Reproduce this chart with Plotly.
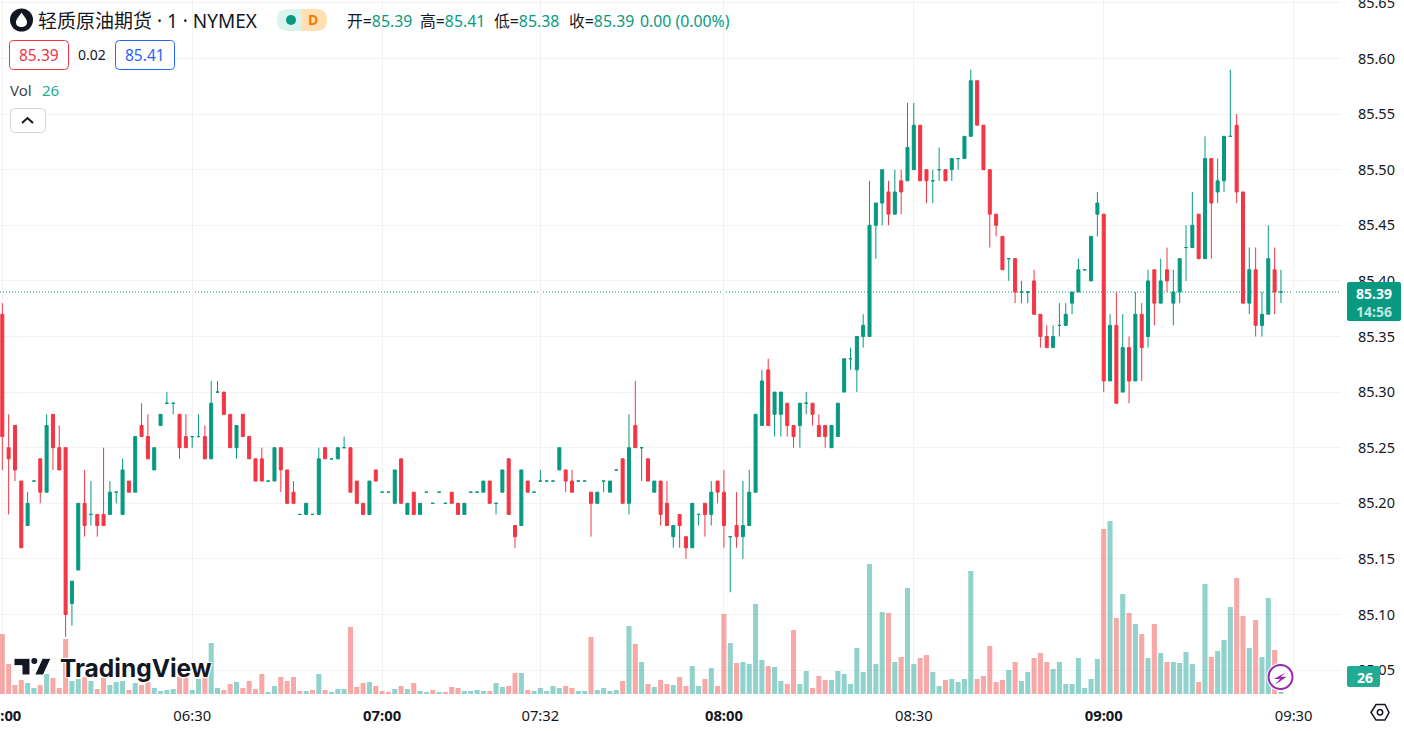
import plotly.graph_objects as go

# Prices are stored as hundredths above 85.00, bar by bar (1-minute bars)
opens_c = [37,25,27,22,18,22,24,21,28,25, 25,11,14,20,19,19,19,19,21,19, 22,21,27,26,23,27,29,29,28,26,
 26,26,26,24,30,30,28,25,28,26, 24,24,22,22,25,23,21,19,19,19, 19,25,24,24,25,25,22,20,19,23,
 21,21,20,24,19,21,19,21,20,21, 20,21,20,19,21,21,21,22,20,21, 24,18,18,22,21,22,22,22,23,23,
 22,22,22,21,20,22,21,23,24,20, 27,25,24,21,22,20,17,19,17,16, 19,20,19,22,21,17,18,17,18,21,
 27,32,28,28,29,27,27,29,29,27, 27,25,26,30,33,32,35,35,45,47, 48,46,49,49,50,54,50,49,50,50,
 50,51,51,53,58,54,50,46,44,42, 42,39,39,40,37,35,34,36,36,38, 39,41,40,46,46,31,36,30,34,31,
 37,35,41,38,41,38,39,43,43,46, 42,51,48,49,53,54,48,38,41,36, 37,41,39]
highs_c = [38,28,27,22,21,22,24,28,28,27, 25,13,20,23,22,19,25,22,21,24, 22,26,29,28,25,28,30,29,28,28,
 26,28,27,31,31,30,28,27,28,26, 24,25,22,25,25,23,22,19,20,19, 25,25,24,25,26,25,22,20,22,23,
 21,21,23,24,20,21,20,21,20,21, 20,21,20,20,21,21,22,22,20,23, 24,18,23,22,21,23,22,22,25,23,
 23,22,22,21,21,22,22,23,24,28, 31,25,24,22,22,22,18,19,17,20, 19,20,22,22,23,17,21,22,23,28,
 32,33,30,30,29,27,29,30,29,28, 27,27,29,33,34,35,37,49,47,50, 49,50,50,56,56,54,50,50,52,50,
 51,51,53,59,58,54,50,46,44,42, 42,40,39,41,37,36,36,38,38,39, 42,41,44,48,46,37,39,37,35,39,
 38,41,41,42,43,41,42,45,48,46, 53,51,51,53,59,55,48,43,43,39, 45,43,41]
lows_c = [23,19,22,16,18,22,20,21,23,23, 8,9,14,17,18,17,18,19,20,19, 21,21,26,24,23,27,29,28,24,25,
 25,26,24,24,30,28,25,24,26,24, 22,22,22,22,21,20,20,19,19,19, 19,24,24,24,25,21,20,19,19,22,
 21,21,20,20,19,19,19,21,20,21, 20,20,19,19,21,21,21,20,19,21, 19,16,18,21,21,22,22,22,23,21,
 21,22,22,17,20,21,21,23,20,19, 25,22,22,21,18,18,16,16,15,16, 18,17,18,20,16,12,16,15,18,21,
 27,27,26,26,26,25,25,28,27,26, 25,25,26,30,32,30,34,35,42,45, 45,46,46,49,50,49,47,47,49,49,
 49,50,51,53,54,50,43,44,41,40, 38,38,38,37,34,34,34,35,36,37, 39,41,40,44,30,31,29,30,29,31,
 31,34,36,38,39,36,38,40,43,42, 42,42,47,48,53,47,38,37,35,35, 37,37,38]
closes_c = [26,24,23,16,20,22,21,27,25,23, 10,13,20,18,19,18,18,21,21,23, 21,26,26,24,25,28,29,29,25,25,
 26,26,24,29,30,28,25,27,26,24, 22,22,22,25,23,20,20,19,20,19, 24,24,24,25,25,21,20,19,22,22,
 21,21,23,20,20,19,20,21,20,21, 20,20,19,20,21,21,22,20,20,23, 19,17,23,21,21,22,22,22,25,22,
 21,22,22,20,21,22,22,23,20,25, 25,25,22,22,19,18,18,18,16,20, 19,19,21,21,18,17,17,18,21,28,
 31,27,30,30,27,26,29,29,28,26, 26,27,29,33,33,35,36,45,47,50, 46,48,48,52,54,49,49,49,50,49,
 51,51,53,58,54,50,46,45,41,42, 39,39,39,37,35,34,35,36,37,39, 41,41,44,47,31,36,29,34,31,37,
 34,40,38,40,40,39,42,43,45,42, 51,47,49,53,53,48,38,41,36,37, 42,39,39]
volumes = [180,90,27,42,33,18,27,60,48,18, 165,39,45,51,39,15,48,27,36,39, 12,33,27,36,18,9,12,15,51,51,
 12,45,48,153,18,12,30,36,18,39, 15,60,6,24,51,39,51,9,9,12, 60,12,6,15,15,201,21,33,36,24,
 9,6,15,24,15,33,9,6,12,6, 6,21,18,9,9,12,9,9,33,21, 24,63,63,12,9,18,9,24,18,24,
 18,9,9,171,12,18,9,12,39,204, 150,96,30,21,42,30,27,51,24,84, 24,45,78,24,240,153,93,96,90,270,
 102,84,81,39,30,192,30,69,18,54, 42,42,69,60,30,138,66,390,90,246, 243,96,111,318,90,108,117,66,24,42,
 45,36,45,369,45,54,144,36,42,72, 96,39,66,108,123,96,75,96,30,30, 108,18,45,105,495,519,228,300,243,210,
 180,108,210,123,96,96,93,126,90,36, 330,111,129,162,261,348,234,138,222,111, 288,132,6]
volume_side = ("rrrrggrgrr" "rggrgrrggg" "rgrrggggrr" "ggrggrrgrr" "rrggrrrrgr" "grgggrrrgr"
               "rrgrgrggrg" "rrrggggrgg" "rrgrgggggr" "rggrggggrg" "rgrgrrgrrg" "grgrrgrggg"
               "grggrrggrr" "rggggggggg" "rgrggrrggr" "ggggrrrrrg" "rggrrrgggg" "ggggrgrgrg"
               "rgrgrggggr" "grgggrrgrg" "grg")
tick_bars = [0, 30, 60, 85, 114, 144, 174, 204]
tick_labels = ["<b>06:00</b>", "06:30", "<b>07:00</b>", "07:32", "<b>08:00</b>", "08:30", "<b>09:00</b>", "09:30"]
price_ticks = [85.05,85.10,85.15,85.20,85.25,85.30,85.35,85.40,85.45,85.50,85.55,85.60,85.65]
bid, spread, ask = "85.39", "0.02", "85.41"
last_volume_label = "26"
countdown = "14:56"

GREEN = "#089981"; RED = "#f23645"; VOLG = "rgba(38,166,154,0.5)"; VOLR = "rgba(239,83,80,0.5)"
TEXT = "#131722"; GRID = "#f3f3f4"; BLUE = "#2962ff"; TEAL = "#22ab94"
FONT = "Noto Sans, Noto Sans CJK SC, sans-serif"
W, H, PW, PH = 1404, 731, 1341, 694

def cv(lst): return [round(85 + v / 100, 2) for v in lst]
O, Hi, L, C = cv(opens_c), cv(highs_c), cv(lows_c), cv(closes_c)
bars = list(range(len(O)))

def candle(idx, color):
    return go.Candlestick(
        x=[bars[i] for i in idx], open=[O[i] for i in idx], high=[Hi[i] for i in idx],
        low=[L[i] for i in idx], close=[C[i] for i in idx], yaxis="y2",
        increasing=dict(line=dict(color=color, width=1), fillcolor=color),
        decreasing=dict(line=dict(color=color, width=1), fillcolor=color),
        hoverinfo="skip", showlegend=False)

fig = go.Figure()
fig.add_bar(x=bars, y=volumes, width=0.8, marker=dict(color=[VOLG if s == "g" else VOLR for s in volume_side], line_width=0),
            hoverinfo="skip", showlegend=False)
fig.add_trace(candle([i for i in bars if C[i] >= O[i]], GREEN))
fig.add_trace(candle([i for i in bars if C[i] < O[i]], RED))

xp = lambda X: X / PW
yp = lambda Y: 1 - Y / PH
def P(cmds):
    out = []
    for c in cmds:
        if isinstance(c, str): out.append(c)
        else: out.append(f"{xp(c[0]):.5f},{yp(c[1]):.5f}")
    return " ".join(out)
def rrect(x0, y0, x1, y1, r):
    return P(["M",(x0+r,y0),"L",(x1-r,y0),"Q",(x1,y0),(x1,y0+r),"L",(x1,y1-r),"Q",(x1,y1),(x1-r,y1),
              "L",(x0+r,y1),"Q",(x0,y1),(x0,y1-r),"L",(x0,y0+r),"Q",(x0,y0),(x0+r,y0),"Z"])
shapes = []
def path(d, fill=None, line=None, lw=1):
    shapes.append(dict(type="path", xref="paper", yref="paper", path=d,
                       fillcolor=fill or "rgba(0,0,0,0)", line=dict(color=line or "rgba(0,0,0,0)", width=lw if line else 0)))
def circle(cx, cy, r, fill=None, line=None, lw=1):
    shapes.append(dict(type="circle", xref="paper", yref="paper", x0=xp(cx-r), x1=xp(cx+r), y0=yp(cy+r), y1=yp(cy-r),
                       fillcolor=fill or "rgba(0,0,0,0)", line=dict(color=line or "rgba(0,0,0,0)", width=lw if line else 0)))
anns = []
def text(x, y, s, size=14, color=TEXT, anchor="left", bold=False, family=FONT, shadow=None):
    f = dict(size=size, color=color, family=family)
    if shadow: f["shadow"] = shadow
    anns.append(dict(xref="paper", yref="paper", x=xp(x), y=yp(y), text=f"<b>{s}</b>" if bold else s, showarrow=False,
                     xanchor=anchor, yanchor="middle", font=f, align=anchor, borderpad=0, borderwidth=0))

# last price line
shapes.append(dict(type="line", xref="paper", yref="y2", x0=0, x1=1, y0=C[-1], y1=C[-1], layer="below",
                   line=dict(color=GREEN, width=1, dash="1px,2px")))
# header
circle(21.5, 20, 11.5, fill=TEXT)
path(P(["M",(21.5,12.5),"C",(24,16.5),(27,19),(27,22.5),"C",(27,25.5),(24.5,27),(21.5,27),"C",(18.5,27),(16,25.5),(16,22.5),"C",(16,19),(19,16.5),(21.5,12.5),"Z"]), fill="#ffffff")
text(38, 21, "轻质原油期货 · 1 · NYMEX", size=19)
path(rrect(277, 9, 313, 31, 11), fill="#dcf2ed")
path(P(["M",(302,9),"L",(316,9),"Q",(327,9),(327,20),"Q",(327,31),(316,31),"L",(302,31),"Z"]), fill="#ffe0b2")
circle(291, 20, 5, fill=GREEN)
text(313, 20, "D", size=14, color="#f57c00", anchor="center", bold=True)
for x, lab, v in [(347, "开=", O[-1]), (420, "高=", Hi[-1]), (494, "低=", L[-1]), (569, "收=", C[-1])]:
    text(x, 21, f'{lab}<span style="color:{GREEN}">{v:.2f}</span>', size=15.8)
text(640, 21, f"{C[-1]-O[-1]:.2f} (0.00%)", size=15.8, color=GREEN)
path(rrect(9.5, 40.5, 68.5, 69.5, 4), fill="#ffffff", line=RED)
text(39, 55, bid, size=15.5, color=RED, anchor="center")
text(92, 55, spread, size=14, anchor="center")
path(rrect(115.5, 40.5, 174.5, 69.5, 4), fill="#ffffff", line=BLUE)
text(145, 55, ask, size=15.5, color=BLUE, anchor="center")
text(10, 90, "Vol", size=15, color="#42454f")
text(42, 90, last_volume_label, size=15, color=TEAL)
path(rrect(10.5, 108.5, 45.5, 132.5, 4), fill="#ffffff", line="#d1d4dc")
path(P(["M",(22,123),"L",(27.5,118),"L",(33,123)]), line=TEXT, lw=2)
# price and volume labels
path(rrect(1347, 282, 1401, 321, 2), fill=GREEN)
text(1374, 293, f"{C[-1]:.2f}", size=14, color="#ffffff", anchor="center", bold=True)
text(1374, 311, countdown, size=14, color="rgba(255,255,255,0.75)", anchor="center", bold=True)
path(rrect(1347, 666, 1380, 687, 2), fill=TEAL)
text(1365, 677, last_volume_label, size=14, color="#ffffff", anchor="center", bold=True)
# watermark
logo_t = P(["M",(14,658.3),"L",(30,658.3),"L",(30,675),"L",(22,675),"L",(22,665.7),"L",(14,665.7),"Z"])
logo_s = P(["M",(42.3,658.3),"L",(51,658.3),"L",(43.3,675),"L",(34.7,675),"Z"])
for d in (logo_t, logo_s):
    path(d, fill=TEXT, line="#ffffff", lw=1)
circle(34.3, 661, 3, fill=TEXT)
text(60, 668, "TradingView", size=24.5, color=TEXT, bold=True, family="Inter, Noto Sans, sans-serif",
     shadow="1px 1px 1px #fff, -1px -1px 1px #fff, 1px -1px 1px #fff, -1px 1px 1px #fff")
# lightning badge
circle(1280.5, 677, 14, fill="#ffffff")
circle(1280.5, 677, 12, fill="#ffffff", line="#9c27b0", lw=2)
path(P(["M",(1285.7,672.3),"L",(1274,679),"L",(1280,679),"L",(1275,684.7),"L",(1286.7,676.7),"L",(1280.7,676.7),"Z"]), fill="#9c27b0")
# settings hexagon
path(P(["M",(1371,712.5),"L",(1376,704.5),"L",(1385,704.5),"L",(1389,712.5),"L",(1385,720),"L",(1376,720),"Z"]), line=TEXT, lw=1.5)
circle(1380, 712.3, 2.7, line=TEXT, lw=1.5)

k0 = -2.3 / 6.33
fig.update_layout(
    width=W, height=H, autosize=False, margin=dict(l=0, r=W-PW, t=0, b=H-PH, pad=0, autoexpand=False),
    paper_bgcolor="#ffffff", plot_bgcolor="#ffffff", font=dict(family=FONT, size=14, color=TEXT),
    showlegend=False, dragmode=False, boxmode="overlay", boxgap=0.32, shapes=shapes, annotations=anns,
    xaxis=dict(range=[k0, k0 + PW / 6.33], rangeslider=dict(visible=False), tickmode="array", tickvals=tick_bars,
               ticktext=tick_labels, showgrid=True, gridcolor=GRID, gridwidth=1, zeroline=False, showline=False,
               ticks="outside", ticklen=8, tickcolor="rgba(0,0,0,0)", ticklabeloverflow="allow", automargin=False,
               tickfont=dict(size=14.8, color=TEXT, family=FONT)),
    yaxis=dict(range=[0, 3 * PH], visible=False, showgrid=False, zeroline=False, automargin=False),
    yaxis2=dict(range=[85.60 - (PH - 58.5) / 1112, 85.60 + 58.5 / 1112], overlaying="y", side="right", tickmode="array",
                tickvals=price_ticks, tickformat=".2f", showgrid=True, gridcolor=GRID, gridwidth=1, zeroline=False,
                showline=False, ticks="outside", ticklen=13, tickcolor="rgba(0,0,0,0)", ticklabeloverflow="allow",
                automargin=False, tickfont=dict(size=14.5, color=TEXT, family=FONT)),
)
fig.write_html("out.html", config=dict(displayModeBar=False, staticPlot=True),
               post_script="document.body.style.margin='0';document.body.style.overflow='hidden';")
